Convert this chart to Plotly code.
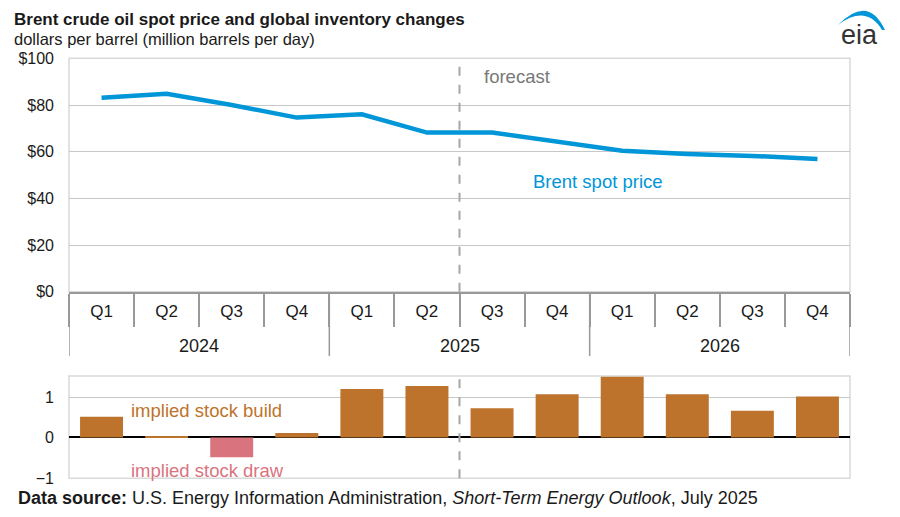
import plotly.graph_objects as go

# ---- data ----
years = ["2024", "2025", "2026"]
quarters = ["Q1", "Q2", "Q3", "Q4"]
price = [83.1, 84.8, 80.0, 74.6, 76.0, 68.2, 68.2, 64.3, 60.4, 59.0, 58.2, 56.9]
stock = [0.51, 0.03, -0.49, 0.11, 1.20, 1.27, 0.72, 1.07, 1.50, 1.07, 0.66, 1.01]
forecast_start = 6  # index of first forecast quarter

cats = [f"{y} {q}" for y in years for q in quarters]
qlabels = [q for y in years for q in quarters]

# page body has an 8px margin: the figure occupies window pixels 8..892 x 8..509
OFF = 8
W, H = 900 - 2 * OFF, 517 - 2 * OFF
def px(x):
    return (x - OFF) / W
def py(y):
    return 1 - (y - OFF) / H

BLUE = "#0096D7"
ORANGE = "#BD732B"
PINK = "#D9747F"
FONT = "Liberation Sans, Arial, sans-serif"
TXT = "#1a1a1a"

fig = go.Figure()
fig.add_trace(go.Scatter(x=cats, y=price, mode="lines",
                         line=dict(color=BLUE, width=4.5),
                         xaxis="x", yaxis="y", showlegend=False,
                         hoverinfo="x+y"))
fig.add_trace(go.Bar(x=cats, y=stock,
                     marker=dict(color=[ORANGE if v >= 0 else PINK for v in stock],
                                 line=dict(width=0)),
                     width=0.66, xaxis="x2", yaxis="y2", showlegend=False))

xdom = [px(69), px(850)]
fig.update_layout(
    template="none",
    width=W, height=H, autosize=False,
    margin=dict(l=0, r=0, t=0, b=0, pad=0),
    paper_bgcolor="white", plot_bgcolor="white",
    font=dict(family=FONT, size=17, color=TXT),
    xaxis=dict(domain=xdom, type="category", range=[-0.5, 11.5], automargin=False,
               tickvals=cats, ticktext=qlabels, ticks="outside",
               tickson="boundaries", ticklen=33, tickcolor="#999999", tickwidth=1.5,
               ticklabelstandoff=3,
               showline=True, linecolor="#999999", linewidth=1.5,
               showgrid=False, zeroline=False, anchor="y", fixedrange=True,
               tickfont=dict(size=17, color=TXT)),
    yaxis=dict(domain=[py(291.8), py(58.3)], range=[0, 100], dtick=20, automargin=False,
               tickprefix="$", showgrid=True, gridcolor="#c8c8c8", gridwidth=1.2,
               zeroline=False, showline=False, ticks="", ticklabelstandoff=14,
               tickfont=dict(size=16, color=TXT), anchor="x", fixedrange=True),
    xaxis2=dict(domain=xdom, type="category", range=[-0.5, 11.5], automargin=False,
                showticklabels=False, ticks="", showgrid=False, showline=False,
                zeroline=False, anchor="y2", fixedrange=True),
    yaxis2=dict(domain=[py(478.3), py(376)], range=[-1.01, 1.52], automargin=False,
                tickvals=[-1, 0, 1], showgrid=True, gridcolor="#c8c8c8", gridwidth=1.2,
                zeroline=True, zerolinecolor="#000000", zerolinewidth=1.5,
                ticks="", ticklabelstandoff=14, showline=False,
                tickfont=dict(size=16, color=TXT), anchor="x2", fixedrange=True),
    bargap=0.34,
)

shapes = []
# plot area borders
for xr, yr in (("x domain", "y domain"), ("x2 domain", "y2 domain")):
    shapes.append(dict(type="rect", xref=xr, yref=yr, x0=0, x1=1, y0=0, y1=1,
                       line=dict(color="#d9d9d9", width=1.5), layer="below"))
# forecast divider
fx = forecast_start - 0.5
for yr in ("y domain", "y2 domain"):
    shapes.append(dict(type="line", xref="x", yref=yr, x0=fx, x1=fx, y0=0, y1=1,
                       line=dict(color="#a6a6a6", width=2, dash="dash")))
# year dividers on category axis
for i in range(len(years) + 1):
    xb = i * len(quarters) - 0.5
    shapes.append(dict(type="line", xref="x", yref="paper", x0=xb, x1=xb,
                       y0=py(292), y1=py(356),
                       line=dict(color="#999999", width=1.5)))
# eia logo arc
arc = (f"M {px(838)},{py(25)} Q {px(868)},{py(-6)} {px(885)},{py(30)} "
       f"L {px(882)},{py(30)} Q {px(866)},{py(4)} {px(838)},{py(25)} Z")
shapes.append(dict(type="path", xref="paper", yref="paper", path=arc,
                   fillcolor=BLUE, line=dict(width=0)))
fig.update_layout(shapes=shapes)

ann = []
# year labels
for i, y in enumerate(years):
    xc = i * len(quarters) + (len(quarters) - 1) / 2
    ann.append(dict(x=xc, y=py(346), xref="x", yref="paper", text=y,
                    showarrow=False, font=dict(size=18, color=TXT),
                    xanchor="center", yanchor="middle"))
ann += [
    dict(x=px(12), y=py(8), xref="paper", yref="paper", xanchor="left", yanchor="top",
         text="<b>Brent crude oil spot price and global inventory changes</b>",
         showarrow=False, font=dict(size=17, color=TXT)),
    dict(x=px(12), y=py(38.7), xref="paper", yref="paper", xanchor="left", yanchor="middle",
         text="dollars per barrel (million barrels per day)",
         showarrow=False, font=dict(size=16.5, color=TXT)),
    dict(x=px(482), y=py(77), xref="paper", yref="paper", xanchor="left", yanchor="middle",
         text="forecast", showarrow=False, font=dict(size=18.5, color="#777777")),
    dict(x=px(531), y=py(181), xref="paper", yref="paper", xanchor="left", yanchor="middle",
         text="Brent spot price", showarrow=False, font=dict(size=18.5, color=BLUE)),
    dict(x=px(129), y=py(410), xref="paper", yref="paper", xanchor="left", yanchor="middle",
         text="implied stock build", showarrow=False, font=dict(size=18.5, color=ORANGE)),
    dict(x=px(129), y=py(470), xref="paper", yref="paper", xanchor="left", yanchor="middle",
         text="implied stock draw", showarrow=False, font=dict(size=18.5, color=PINK)),
    dict(x=px(16), y=py(498), xref="paper", yref="paper", xanchor="left", yanchor="middle",
         text="<b>Data source:</b> U.S. Energy Information Administration, "
              "<i>Short-Term Energy Outlook</i>, July 2025",
         showarrow=False, font=dict(size=18, color=TXT)),
    dict(x=px(859), y=py(35), xref="paper", yref="paper", xanchor="center", yanchor="middle",
         text="eia", showarrow=False, font=dict(size=27, color="#333333")),
]
fig.update_layout(annotations=ann)

fig.write_html("out.html")
